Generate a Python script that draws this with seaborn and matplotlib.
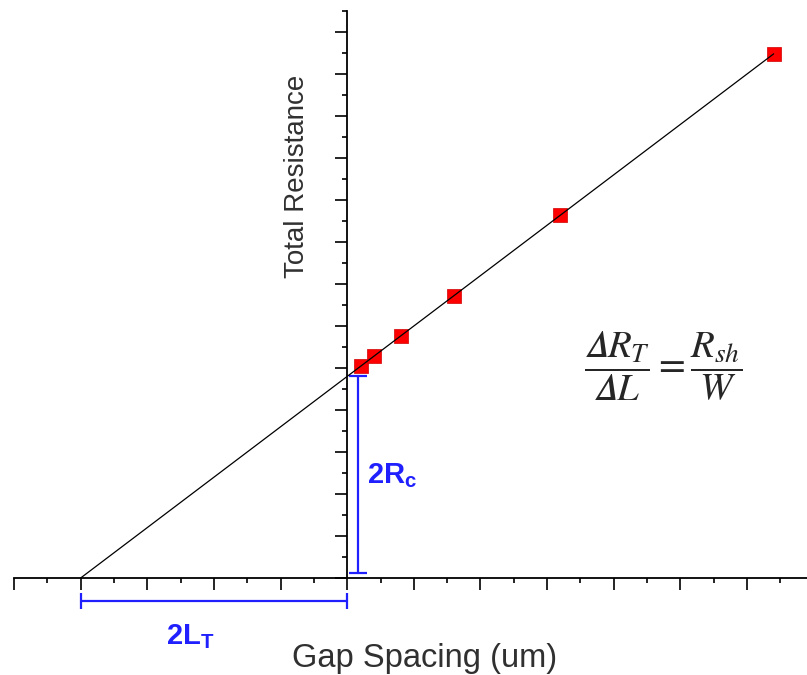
import numpy as np
import pandas as pd
import matplotlib
matplotlib.use("Agg")
import matplotlib.pyplot as plt
from matplotlib.ticker import MultipleLocator
import seaborn as sns

# TLM measurement: gap spacing vs total resistance (arbitrary units)
gap_spacing = [0.2, 0.4, 0.8, 1.6, 3.2, 6.4]
total_resistance = [5.04, 5.28, 5.76, 6.72, 8.64, 12.48]

sns.set_theme(style="white")
plt.rcParams["font.family"] = ["Liberation Sans", "DejaVu Sans"]
plt.rcParams["mathtext.fontset"] = "custom"
plt.rcParams["mathtext.rm"] = "Liberation Sans"
plt.rcParams["mathtext.it"] = "Liberation Sans:italic"
plt.rcParams["mathtext.bf"] = "Liberation Sans:bold"

df = pd.DataFrame({"gap": gap_spacing, "rt": total_resistance})

# linear fit: R_T = 2R_c + (R_sh/W) * L
slope, intercept = np.polyfit(df["gap"], df["rt"], 1)
x_int = -intercept / slope
fit = pd.DataFrame({"gap": [x_int, max(gap_spacing)]})
fit["rt"] = intercept + slope * fit["gap"]

fig = plt.figure(figsize=(8.07, 6.75), dpi=100)
ax = fig.add_axes([14 / 807, 97 / 675, 793 / 807, 567 / 675])

sns.scatterplot(data=df, x="gap", y="rt", marker="s", s=88, color="#ff0000",
                edgecolor="#d00000", linewidth=0.5, zorder=3, ax=ax, legend=False)
sns.lineplot(data=fit, x="gap", y="rt", color="black", linewidth=0.9,
             zorder=4, ax=ax, legend=False)

ax.set_xlim(-5, 6.9)
ax.set_ylim(0, 13.5)
ax.spines["left"].set_position(("data", 0))
ax.spines["top"].set_visible(False)
ax.spines["right"].set_visible(False)
for sp in ("left", "bottom"):
    ax.spines[sp].set_linewidth(1.3)
    ax.spines[sp].set_color("black")
ax.xaxis.set_major_locator(MultipleLocator(1))
ax.xaxis.set_minor_locator(MultipleLocator(0.5))
ax.yaxis.set_major_locator(MultipleLocator(1))
ax.yaxis.set_minor_locator(MultipleLocator(0.5))
ax.tick_params(which="both", direction="out", bottom=True, left=True,
               labelbottom=False, labelleft=False, color="black", width=1.2)
ax.tick_params(which="major", length=8.5)
ax.tick_params(which="minor", length=3.8)
ax.set_xlabel("")
ax.set_ylabel("")

blue = "#2020ff"
# 2R_c bar along the resistance axis
ax.plot([0.165, 0.165], [0.12, intercept], color=blue, lw=1.6, clip_on=False, zorder=2)
ax.plot([0.165, 0.165], [0.12, intercept], ls="none", marker="_", ms=13.5,
        mew=1.6, color=blue, clip_on=False, zorder=2)
ax.text(0.3, 2.25, r"$\mathbf{2R_c}$", color=blue, fontsize=21,
        math_fontfamily="custom", ha="left", va="baseline")

# 2L_T bar below the gap axis
ax.plot([x_int, 0], [-0.55, -0.55], color=blue, lw=1.6, clip_on=False)
ax.plot([x_int, 0], [-0.55, -0.55], ls="none", marker="|", ms=12,
        mew=1.6, color=blue, clip_on=False)
ax.text(-2.72, -1.57, r"$\mathbf{2L_T}$", color=blue, fontsize=21,
        math_fontfamily="custom", ha="left", va="baseline", clip_on=False)

# slope relation
fig.text(663.5 / 807, 1 - 366 / 675,
         "$\\dfrac{\U0001D6E5 R_T}{\U0001D6E5 L} = \\dfrac{R_{sh}}{W}$",
         fontsize=28, color="#262626", math_fontfamily="stix",
         ha="center", va="center")

fig.text(297 / 807, 1 - 176 / 675, "Total Resistance", rotation=90,
         fontsize=20, color="#303030", ha="center", va="center")
fig.text(424.5 / 807, 1 - 667 / 675, "Gap Spacing (um)",
         fontsize=23.5, color="#303030", ha="center", va="baseline")

fig.savefig("out.png", dpi=100)
